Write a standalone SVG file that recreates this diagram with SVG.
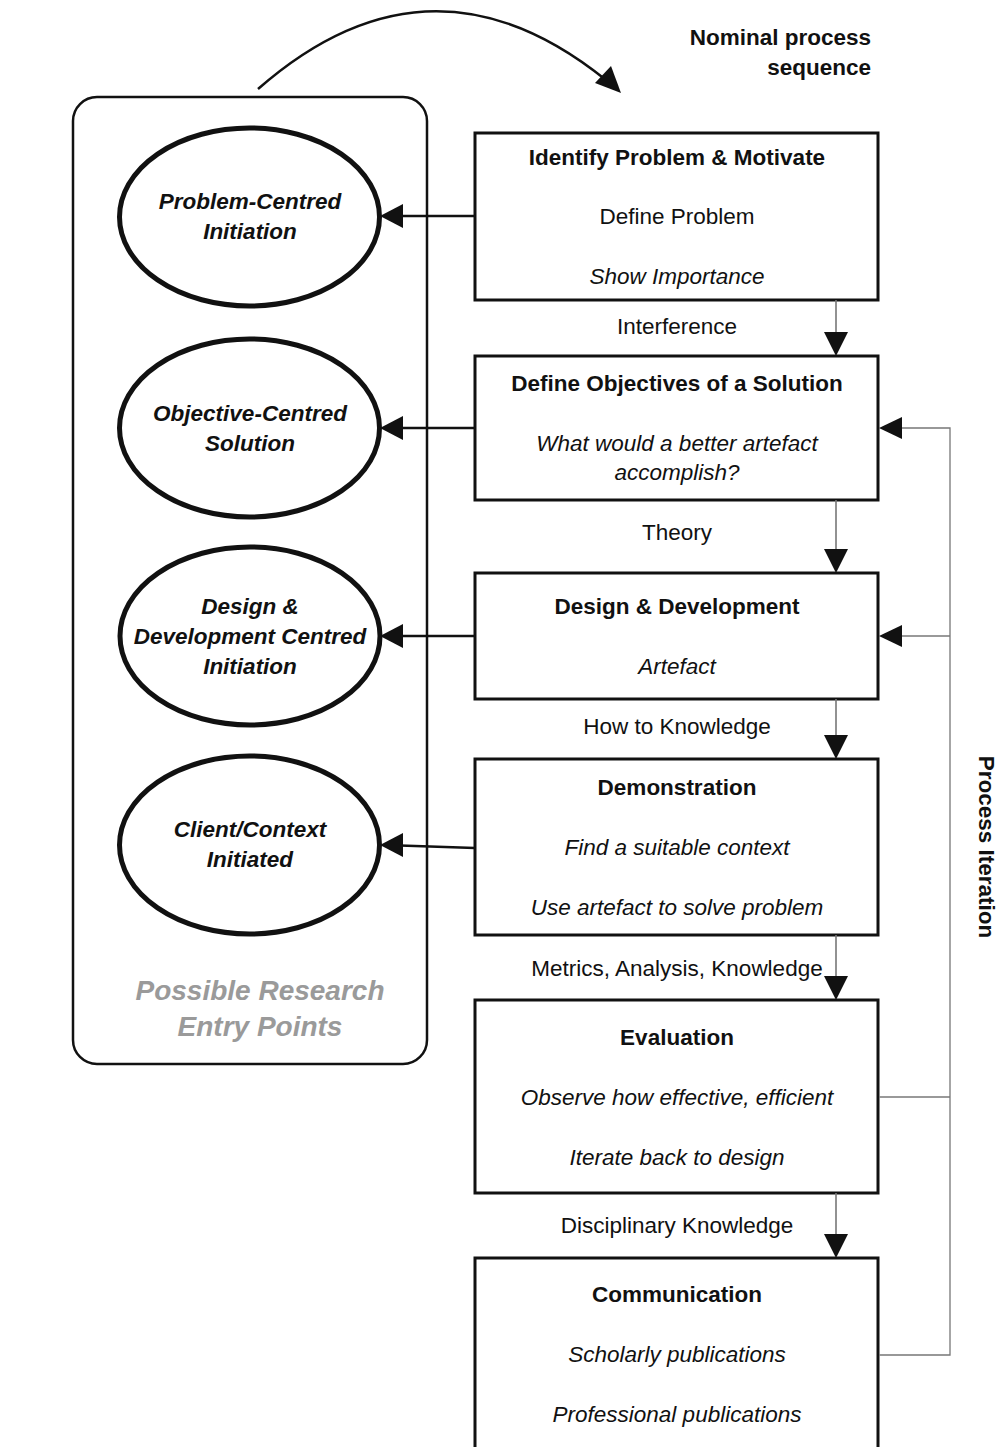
<svg xmlns="http://www.w3.org/2000/svg" width="1000" height="1447" viewBox="0 0 1000 1447">
  <style>
    text { font-family: "Liberation Sans", Arial, sans-serif; fill: #111; }
    .title { font-size: 22.5px; font-weight: bold; text-anchor: middle; }
    .body { font-size: 22.5px; text-anchor: middle; }
    .ital { font-size: 22.5px; font-style: italic; text-anchor: middle; }
    .entry { font-size: 22.5px; font-weight: bold; font-style: italic; text-anchor: middle; }
    .hint { font-size: 28px; font-weight: bold; font-style: italic; text-anchor: middle; fill: #9a9a9a; }
    .step { fill: #fff; stroke: #111; stroke-width: 3; }
    .oval { fill: #fff; stroke: #111; stroke-width: 5; }
    .flow { fill: none; stroke: #777; stroke-width: 1.6; }
    .loop { fill: none; stroke: #777; stroke-width: 1.3; }
    .link { fill: none; stroke: #111; stroke-width: 2.5; }
    .head { fill: #111; }
  </style>

  <rect x="0" y="0" width="1000" height="1447" fill="#fff"/>

  <!-- container for the entry points -->
  <g id="entry-points">
    <rect x="73" y="97" width="354" height="967" rx="24" ry="24" fill="#fff" stroke="#111" stroke-width="2.5"/>
    <text class="hint" x="260" y="1000">Possible Research</text>
    <text class="hint" x="260" y="1036">Entry Points</text>
  </g>

  <g id="entry-problem">
    <ellipse class="oval" cx="249.5" cy="217" rx="130" ry="89"/>
    <text class="entry" x="250" y="209">Problem-Centred</text>
    <text class="entry" x="250" y="239">Initiation</text>
  </g>
  <g id="entry-objective">
    <ellipse class="oval" cx="249.5" cy="428" rx="130" ry="89"/>
    <text class="entry" x="250" y="421">Objective-Centred</text>
    <text class="entry" x="250" y="451">Solution</text>
  </g>
  <g id="entry-design">
    <ellipse class="oval" cx="250" cy="636" rx="130" ry="89"/>
    <text class="entry" x="250" y="614">Design &amp;</text>
    <text class="entry" x="250" y="644">Development Centred</text>
    <text class="entry" x="250" y="674">Initiation</text>
  </g>
  <g id="entry-client">
    <ellipse class="oval" cx="249.5" cy="845" rx="130" ry="89"/>
    <text class="entry" x="250" y="837">Client/Context</text>
    <text class="entry" x="250" y="867">Initiated</text>
  </g>

  <!-- process steps -->
  <g id="step-identify">
    <rect class="step" x="475" y="133" width="403" height="167"/>
    <text class="title" x="677" y="165">Identify Problem &amp; Motivate</text>
    <text class="body" x="677" y="224">Define Problem</text>
    <text class="ital" x="677" y="284">Show Importance</text>
  </g>
  <g id="step-objectives">
    <rect class="step" x="475" y="356" width="403" height="144"/>
    <text class="title" x="677" y="391">Define Objectives of a Solution</text>
    <text class="ital" x="677" y="451">What would a better artefact</text>
    <text class="ital" x="677" y="480">accomplish?</text>
  </g>
  <g id="step-design">
    <rect class="step" x="475" y="573" width="403" height="126"/>
    <text class="title" x="677" y="614">Design &amp; Development</text>
    <text class="ital" x="677" y="674">Artefact</text>
  </g>
  <g id="step-demonstration">
    <rect class="step" x="475" y="759" width="403" height="176"/>
    <text class="title" x="677" y="795">Demonstration</text>
    <text class="ital" x="677" y="855">Find a suitable context</text>
    <text class="ital" x="677" y="915">Use artefact to solve problem</text>
  </g>
  <g id="step-evaluation">
    <rect class="step" x="475" y="1000" width="403" height="193"/>
    <text class="title" x="677" y="1045">Evaluation</text>
    <text class="ital" x="677" y="1105">Observe how effective, efficient</text>
    <text class="ital" x="677" y="1165">Iterate back to design</text>
  </g>
  <g id="step-communication">
    <rect class="step" x="475" y="1258" width="403" height="220"/>
    <text class="title" x="677" y="1302">Communication</text>
    <text class="ital" x="677" y="1362">Scholarly publications</text>
    <text class="ital" x="677" y="1422">Professional publications</text>
  </g>

  <g id="labels">
    <text class="title" x="871" y="45" style="text-anchor:end">Nominal process</text>
    <text class="title" x="871" y="75" style="text-anchor:end">sequence</text>
    <text class="title" transform="translate(979,847) rotate(90)" x="0" y="0">Process Iteration</text>
  </g>

  <!-- connectors -->
  <g id="connectors">
    <!-- nominal sequence arc -->
    <path class="link" d="M258,89 Q430,-62 606,80"/>
    <polygon class="head" points="621,93 595,83 611,66"/>

    <!-- step to step -->
    <line class="flow" x1="836" y1="300" x2="836" y2="334"/>
    <polygon class="head" points="836,356 824,332 848,332"/>
    <text class="body" x="677" y="334">Interference</text>

    <line class="flow" x1="836" y1="500" x2="836" y2="551"/>
    <polygon class="head" points="836,573 824,549 848,549"/>
    <text class="body" x="677" y="540">Theory</text>

    <line class="flow" x1="836" y1="699" x2="836" y2="737"/>
    <polygon class="head" points="836,759 824,735 848,735"/>
    <text class="body" x="677" y="734">How to Knowledge</text>

    <line class="flow" x1="836" y1="935" x2="836" y2="978"/>
    <polygon class="head" points="836,1000 824,976 848,976"/>
    <text class="body" x="677" y="976">Metrics, Analysis, Knowledge</text>

    <line class="flow" x1="836" y1="1193" x2="836" y2="1236"/>
    <polygon class="head" points="836,1258 824,1234 848,1234"/>
    <text class="body" x="677" y="1233">Disciplinary Knowledge</text>

    <!-- step to entry point -->
    <line class="link" x1="475" y1="216" x2="400" y2="216"/>
    <polygon class="head" points="380,216 403,204 403,228"/>
    <line class="link" x1="475" y1="428" x2="400" y2="428"/>
    <polygon class="head" points="380,428 403,416 403,440"/>
    <line class="link" x1="475" y1="636" x2="400" y2="636"/>
    <polygon class="head" points="380,636 403,624 403,648"/>
    <line class="link" x1="475" y1="848" x2="400" y2="845.5"/>
    <polygon class="head" points="380,845 403,833 403,857"/>

    <!-- iteration loop -->
    <polyline class="loop" points="879,1097 950,1097"/>
    <polyline class="loop" points="879,1355 950,1355 950,428 900,428"/>
    <polyline class="loop" points="950,636 900,636"/>
    <polygon class="head" points="879,428 902,417 902,439"/>
    <polygon class="head" points="879,636 902,625 902,647"/>
  </g>
</svg>
